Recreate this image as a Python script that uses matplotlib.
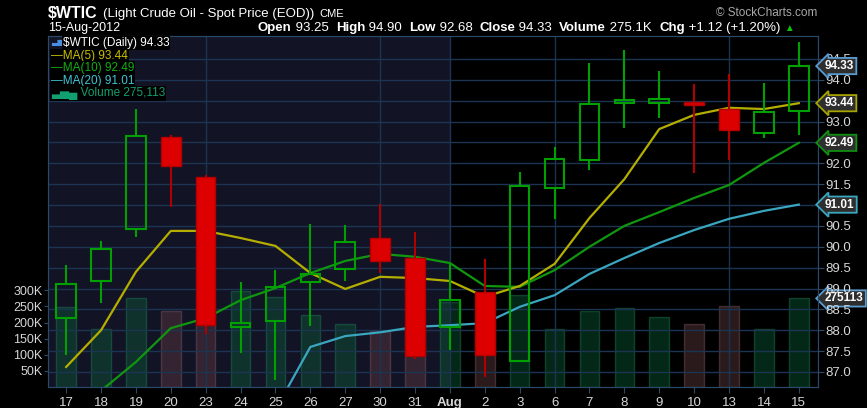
import numpy as np
import matplotlib
matplotlib.use("Agg")
import matplotlib.pyplot as plt

plt.rcParams['font.family'] = ['Liberation Sans', 'DejaVu Sans']

# daily data, Jul 17 - Aug 15 2012
dates = ['17', '18', '19', '20', '23', '24', '25', '26', '27', '30', '31', 'Aug',
         '2', '3', '6', '7', '8', '9', '10', '13', '14', '15']
open_ = [88.29, 89.18, 90.43, 92.63, 91.67, 88.08, 88.22, 89.16, 89.47, 90.21, 89.73,
         88.08, 88.92, 87.26, 91.41, 92.08, 93.45, 93.45, 93.47, 93.30, 92.73, 93.25]
high = [89.56, 90.14, 93.30, 92.68, 91.72, 89.16, 89.44, 90.55, 90.52, 91.03, 90.35,
        89.61, 89.71, 91.79, 92.39, 94.41, 94.72, 94.22, 93.90, 94.14, 93.93, 94.90]
low = [87.41, 88.65, 90.24, 90.95, 87.91, 87.45, 86.81, 88.10, 89.18, 89.37, 87.31,
       87.53, 86.88, 87.24, 90.67, 91.84, 92.85, 93.09, 91.77, 92.08, 92.61, 92.68]
close = [89.11, 89.95, 92.66, 91.94, 88.12, 88.17, 89.04, 89.35, 90.12, 89.66, 87.38,
         88.72, 87.41, 91.46, 92.11, 93.42, 93.52, 93.54, 93.40, 92.80, 93.23, 94.33]
volume = [247000, 181000, 275000, 237000, 240000, 297000, 281000, 225000, 197000, 175000, 180000,
          265000, 200000, 287000, 181000, 237000, 244000, 216000, 197000, 253000, 181000, 275113]
nan = np.nan
ma5 = [87.12, 88.00, 89.40, 90.38, 90.38, 90.21, 90.02, 89.37, 88.99, 89.28, 89.25,
       89.18, 88.80, 89.06, 89.59, 90.69, 91.62, 92.82, 93.16, 93.33, 93.30, 93.44]
ma10 = [nan, 86.55, 87.24, 88.05, 88.29, 88.72, 89.01, 89.37, 89.66, 89.83, 89.76,
        89.61, 89.06, 89.04, 89.44, 90.00, 90.50, 90.83, 91.17, 91.48, 92.01, 92.49]
ma20 = [nan, nan, nan, nan, nan, nan, 86.10, 87.60, 87.86, 87.95, 88.08,
        88.12, 88.17, 88.56, 88.84, 89.35, 89.73, 90.09, 90.40, 90.67, 90.86, 91.01]

vol_ticks = [50000, 100000, 150000, 200000, 250000, 300000]
vol_labels = ['50K', '100K', '150K', '200K', '250K', '300K']
price_ticks = np.arange(87.0, 94.51, 0.5)

x = np.arange(len(dates))
up = [c >= o for o, c in zip(open_, close)]

GREEN = '#00a000'
RED = '#dd0000'
YEL = '#b4ae00'
MAG = '#10960f'
CYAN = '#3aa6bf'
TXT = '#d6d6d6'

fig = plt.figure(figsize=(8.67, 4.08), dpi=100, facecolor='black')
ax = fig.add_axes([48/867, 21/408, 770/867, 351/408])
ax.set_facecolor('black')
ax.set_xlim(-0.52, 21.55)
ax.set_ylim(0, 1090000)

# july shading
ax.axvspan(-0.52, 11, color='#131326', zorder=0, lw=0)

vcol = ['#0b5a34' if u else '#5e3a40' for u in up]
vedge = ['#1b7a55' if u else '#7a5660' for u in up]
ax.bar(x, volume, width=0.56, color=vcol, edgecolor=vedge, alpha=0.45, lw=1.0, zorder=1)

ax.set_yticks(vol_ticks)
ax.set_yticklabels(vol_labels)
ax.tick_params(axis='y', colors='#2a4a6a', labelcolor=TXT, labelsize=9, length=3, pad=1)
ax.set_xticks(x)
ax.set_xticklabels(dates)
ax.tick_params(axis='x', colors='#2a4a6a', labelcolor=TXT, labelsize=9.5, length=4, pad=3)
ax.get_xticklabels()[11].set_fontweight('bold')
for s in ax.spines.values():
    s.set_color('#2a4a6a')

# price axis over volume
pax = ax.twinx()
pax.set_ylim(86.64, 95.05)
pax.set_xlim(-0.52, 21.55)
pax.set_yticks(price_ticks)
pax.set_yticklabels(['%.1f' % t for t in price_ticks])
pax.tick_params(axis='y', colors='#2a4a6a', labelcolor=TXT, labelsize=9.5, length=4, pad=1)
for s in pax.spines.values():
    s.set_color('#2a4a6a')
for t in price_ticks:
    pax.axhline(t, color='#1b3452', lw=1.0, zorder=0.5)
for xi in [4, 9, 11, 14, 19]:
    pax.axvline(xi, color='#1b3452', lw=1.0, zorder=0.5)

pax.plot(x, ma20, color=CYAN, lw=1.6, zorder=2)
pax.plot(x, ma10, color=MAG, lw=1.6, zorder=2)
pax.plot(x, ma5, color=YEL, lw=1.6, zorder=2)

w = 0.56
for i in range(len(x)):
    o, h, l, c = open_[i], high[i], low[i], close[i]
    lo, hi = min(o, c), max(o, c)
    if up[i]:
        pax.vlines(x[i], l, lo, color=GREEN, lw=1.5, zorder=3)
        pax.vlines(x[i], hi, h, color=GREEN, lw=1.5, zorder=3)
        pax.add_patch(plt.Rectangle((x[i] - w/2, lo), w, max(hi - lo, 0.03),
                                    facecolor='none', edgecolor=GREEN, lw=1.5, zorder=3))
    else:
        pax.vlines(x[i], l, h, color='#b00000', lw=1.5, zorder=3)
        pax.add_patch(plt.Rectangle((x[i] - w/2, lo), w, max(hi - lo, 0.03),
                                    facecolor=RED, edgecolor='#b00000', lw=1.0, zorder=3))

# tags on right axis
def tag(axis, y, s, ec):
    axis.text(21.55 + 0.2, y, s, color='white', fontsize=8.5, fontweight='bold',
              va='center', ha='left', clip_on=False, zorder=10,
              bbox=dict(boxstyle='larrow,pad=0.18', fc='#2e2e2e', ec=ec, lw=1.3))

tag(pax, 94.33, '94.33', '#5a9cd0')
tag(pax, 93.44, '93.44', '#a8a400')
tag(pax, 92.49, '92.49', '#109010')
tag(pax, 91.01, '91.01', '#3aa6bf')
tag(ax, 275113, '275113', '#5a9cd0')

# legend
fig.text(51/867, 1 - 43/408, '\u2583\u2586', color='#4a8ee0', fontsize=6, va='center', ha='left')
leg = [('$WTIC (Daily) 94.33', 'white', 63), ('\u2014MA(5) 93.44', '#c8c000', 51),
       ('\u2014MA(10) 92.49', '#10b010', 51), ('\u2014MA(20) 91.01', '#40c4d4', 51),
       ('\u2583\u2585\u2584 Volume 275,113', '#12a070', 51)]
for k, (s, c, lx) in enumerate(leg):
    fig.text(lx/867, 1 - (43 + 12.6*k)/408, s, color=c, fontsize=8.5, va='center', ha='left',
             bbox=dict(fc='black', ec='none', pad=0.5))

# header
fig.canvas.draw()
r = fig.canvas.get_renderer()
t = fig.text(48/867, 1 - 14/408, '$WTIC', color='white', fontsize=11.5, fontweight='bold', va='center')
xe = 48 + t.get_window_extent(r).width + 5
t = fig.text(xe/867, 1 - 14/408, '(Light Crude Oil - Spot Price (EOD))', color='white', fontsize=9.5, va='center')
xe = xe + t.get_window_extent(r).width + 5
fig.text(xe/867, 1 - 14/408, 'CME', color='white', fontsize=8, va='center')
fig.text(48/867, 1 - 28/408, '15-Aug-2012', color='white', fontsize=9, va='center')
fig.text(817/867, 1 - 13/408, '\u00a9 StockCharts.com', color='#a8a8a8', fontsize=8.5, va='center', ha='right')

parts = [('Open', True), (' 93.25  ', False), ('High', True), (' 94.90  ', False),
         ('Low', True), (' 92.68  ', False), ('Close', True), (' 94.33  ', False),
         ('Volume', True), (' 275.1K  ', False), ('Chg', True), (' +1.12 (+1.20%)', False)]
xp = 258
for s, b in parts:
    t = fig.text(xp/867, 1 - 28/408, s, color='white', fontsize=9.5,
                 fontweight='bold' if b else 'normal', va='center')
    xp += t.get_window_extent(r).width
fig.text((xp + 4)/867, 1 - 28/408, '\u25B2', color='#10c010', fontsize=7, va='center')

fig.savefig('out.png', dpi=100, facecolor='black')
